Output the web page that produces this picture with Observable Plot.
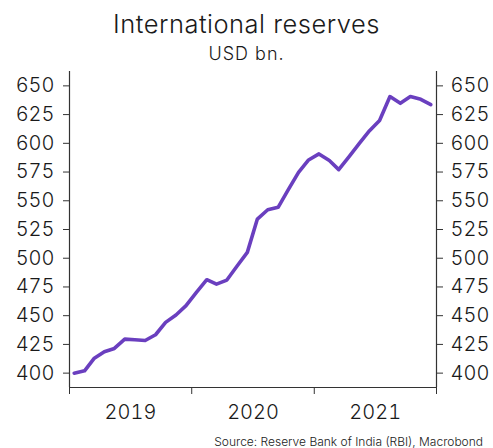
<!DOCTYPE html>
<html>
<head>
<meta charset="utf-8">
<script src="https://cdn.jsdelivr.net/npm/d3@7"></script>
<script src="https://cdn.jsdelivr.net/npm/@observablehq/plot@0.6"></script>
<style>
  html, body { margin: 0; padding: 0; background: #fff; }
  #wrap { position: relative; width: 493px; height: 448px; overflow: hidden; font-family: Inter, sans-serif; color: #1a1a1a; }
  .t { position: absolute; left: 0; width: 493px; text-align: center; white-space: nowrap; line-height: 1; }
  #title { top: 11px; font-size: 25.5px; font-weight: 300; letter-spacing: 0.5px; }
  #subtitle { top: 45px; font-size: 18px; font-weight: 300; letter-spacing: 1px; }
  #source { position: absolute; right: 10px; top: 436px; font-size: 12px; line-height: 1; white-space: nowrap; font-weight: 300; }
  #chart { position: absolute; left: 0; top: 62px; }
</style>
</head>
<body>
<div id="wrap">
  <div id="title" class="t">International reserves</div>
  <div id="subtitle" class="t">USD bn.</div>
  <div id="chart"></div>
  <div id="source">Source: Reserve Bank of India (RBI), Macrobond</div>
</div>
<script>
const months = [
  "2019-01","2019-02","2019-03","2019-04","2019-05","2019-06","2019-07","2019-08","2019-09","2019-10","2019-11","2019-12",
  "2020-01","2020-02","2020-03","2020-04","2020-05","2020-06","2020-07","2020-08","2020-09","2020-10","2020-11","2020-12",
  "2021-01","2021-02","2021-03","2021-04","2021-05","2021-06","2021-07","2021-08","2021-09","2021-10","2021-11","2021-12"
];
const reserves = [
  400.0, 402.0, 412.7, 418.6, 421.5, 429.6, 429.0, 428.4, 433.4, 444.2, 450.6, 458.7,
  470.3, 481.3, 477.5, 481.0, 493.0, 505.1, 534.1, 542.2, 544.3, 559.4, 574.7, 585.5,
  590.8, 585.0, 577.1, 588.4, 599.7, 611.0, 619.8, 640.7, 634.8, 640.7, 638.3, 633.7
];
const yTicks = [400, 425, 450, 475, 500, 525, 550, 575, 600, 625, 650];
const yearLabels = ["2019", "2020", "2021"];

const data = months.map((m, i) => {
  const [y, mo] = m.split("-").map(Number);
  return { date: new Date(Date.UTC(y, mo - 1, 15)), value: reserves[i] };
});
const yearStarts = ["2019", "2020", "2021", "2022"].map(y => new Date(Date.UTC(+y, 0, 1)));
const yearMids = yearLabels.map(y => new Date(Date.UTC(+y, 6, 2)));
const xDomain = [yearStarts[0], yearStarts[yearStarts.length - 1]];
const yDomain = [387.5, 662.5];

const plot = Plot.plot({
  width: 493,
  height: 368,
  marginTop: 9,
  marginBottom: 43,
  marginLeft: 69,
  marginRight: 57,
  style: { fontFamily: "Inter, sans-serif", fontSize: "20px", fontWeight: 300, color: "#1a1a1a", background: "transparent" },
  x: { type: "utc", domain: xDomain },
  y: { domain: yDomain },
  marks: [
    Plot.axisY({ anchor: "left", ticks: yTicks, tickSize: 6, tickPadding: 9, label: null, stroke: "#333", fontSize: 20 }),
    Plot.axisY({ anchor: "right", ticks: yTicks, tickSize: 6, tickPadding: 8, label: null, stroke: "#333", fontSize: 20 }),
    Plot.axisX({ ticks: yearStarts, tickSize: 7, tickFormat: () => "", label: null, stroke: "#333" }),
    Plot.axisX({ ticks: yearMids, tickSize: 0, tickPadding: 17, tickFormat: d => String(d.getUTCFullYear()), label: null, fontSize: 20 }),
    Plot.ruleX(xDomain, { stroke: "#333", strokeWidth: 1.2 }),
    Plot.ruleY([yDomain[0]], { stroke: "#333", strokeWidth: 1.2 }),
    Plot.lineY(data, { x: "date", y: "value", stroke: "#6a3fbf", strokeWidth: 3.6, strokeLinejoin: "round", strokeLinecap: "round" })
  ]
});
document.getElementById("chart").appendChild(plot);
</script>
</body>
</html>
